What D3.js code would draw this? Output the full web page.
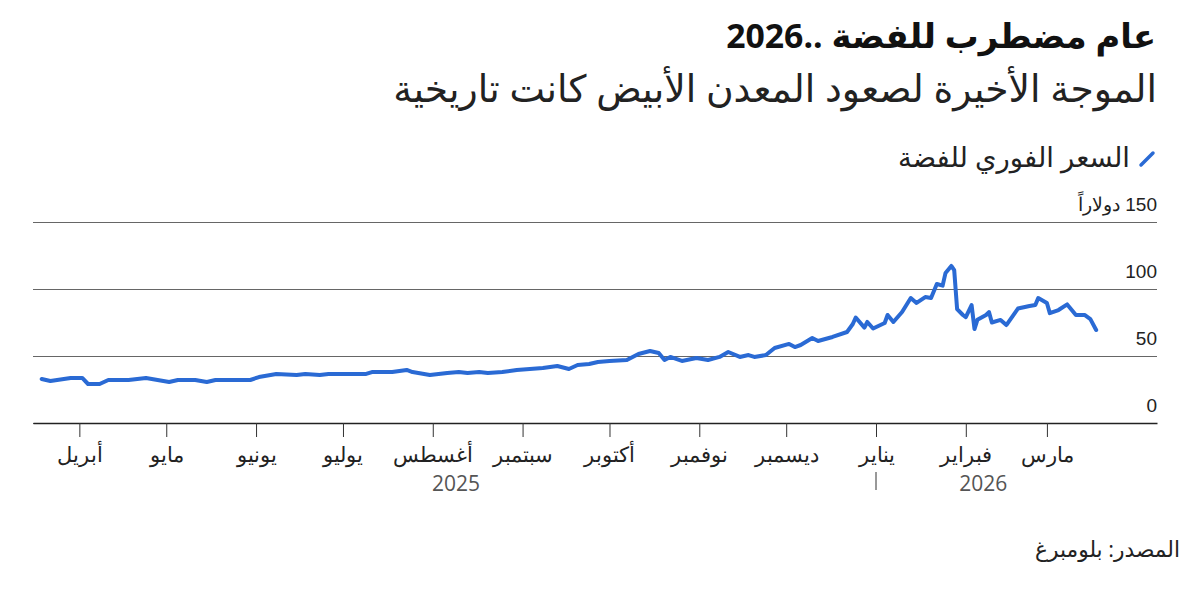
<!DOCTYPE html>
<html lang="ar">
<head>
<meta charset="utf-8">
<script src="https://cdn.jsdelivr.net/npm/d3@7"></script>
<style>
  html, body { margin: 0; padding: 0; background: #fff; }
  svg { display: block; font-family: "Open Sans", "DejaVu Sans", sans-serif; }
</style>
</head>
<body>
<div id="chart"></div>
<script>
// silver spot price, USD/oz
const dates = [
  "2025-03-19","2025-03-22","2025-03-29","2025-04-02","2025-04-04","2025-04-08","2025-04-11","2025-04-18",
  "2025-04-24","2025-05-02","2025-05-05","2025-05-11","2025-05-15","2025-05-18","2025-05-23","2025-05-30",
  "2025-06-02","2025-06-08","2025-06-15","2025-06-18","2025-06-23","2025-06-26","2025-07-03","2025-07-09",
  "2025-07-11","2025-07-18","2025-07-23","2025-07-25","2025-07-31","2025-08-06","2025-08-10","2025-08-13",
  "2025-08-17","2025-08-20","2025-08-25","2025-08-30","2025-09-08","2025-09-13","2025-09-17","2025-09-20",
  "2025-09-24","2025-09-27","2025-10-01","2025-10-07","2025-10-11","2025-10-15","2025-10-18","2025-10-20",
  "2025-10-22","2025-10-26","2025-10-31","2025-11-04","2025-11-08","2025-11-11","2025-11-15","2025-11-18",
  "2025-11-20","2025-11-24","2025-11-27","2025-12-02","2025-12-04","2025-12-06","2025-12-10","2025-12-12",
  "2025-12-17","2025-12-22","2025-12-24","2025-12-25","2025-12-28","2025-12-29","2025-12-31","2026-01-04",
  "2026-01-05","2026-01-07","2026-01-10","2026-01-13","2026-01-15","2026-01-18","2026-01-20","2026-01-22",
  "2026-01-24","2026-01-25","2026-01-27","2026-01-28","2026-01-29","2026-01-31","2026-02-01","2026-02-03",
  "2026-02-04","2026-02-05","2026-02-08","2026-02-09","2026-02-10","2026-02-13","2026-02-15","2026-02-19",
  "2026-02-23","2026-02-25","2026-02-26","2026-03-01","2026-03-02","2026-03-05","2026-03-08","2026-03-11",
  "2026-03-14","2026-03-16","2026-03-18"
];
const prices = [
  32.8, 31.3, 33.6, 33.6, 29.1, 29.1, 32.1, 32.1,
  33.6, 30.6, 32.1, 32.1, 30.6, 32.1, 32.1, 32.1,
  34.3, 36.6, 35.8, 36.6, 35.8, 36.6, 36.6, 36.6,
  38.0, 38.0, 39.6, 38.0, 35.8, 37.3, 38.0, 37.3,
  38.0, 37.3, 38.0, 39.6, 41.0, 42.5, 40.3, 43.3,
  44.0, 45.5, 46.3, 47.0, 51.5, 53.7, 52.2, 47.0,
  49.3, 46.3, 48.5, 47.0, 49.3, 53.0, 49.3, 50.7,
  49.3, 50.7, 56.0, 59.0, 56.7, 58.2, 63.4, 61.2,
  64.2, 67.9, 73.9, 78.7, 71.2, 75.4, 70.5, 74.6,
  80.6, 75.4, 82.8, 93.3, 89.6, 94.0, 93.3, 103.7,
  102.5, 112.0, 117.2, 114.0, 85.0, 80.6, 79.0, 88.0,
  70.1, 77.0, 80.6, 82.8, 75.0, 76.9, 73.1, 85.4,
  87.3, 88.0, 93.3, 89.6, 82.0, 84.3, 88.5, 80.6,
  80.6, 77.5, 69.4
];

const monthTicks = ["2025-04-01","2025-05-01","2025-06-01","2025-07-01","2025-08-01","2025-09-01",
                    "2025-10-01","2025-11-01","2025-12-01","2026-01-01","2026-02-01","2026-03-01"];
const monthNames = ["أبريل","مايو","يونيو","يوليو","أغسطس","سبتمبر","أكتوبر","نوفمبر","ديسمبر","يناير","فبراير","مارس"];
const yearNames = ["2025","2026"];
const yearDates = ["2025-08-09","2026-02-07"];
const yearSplit = "2026-01-01";
const yTicks = [0, 50, 100, 150];
const yUnit = "دولاراً";

const title = "2026.. عام مضطرب للفضة";
const subtitle = "الموجة الأخيرة لصعود المعدن الأبيض كانت تاريخية";
const legendLabel = "السعر الفوري للفضة";
const source = "المصدر: بلومبرغ";

const width = 1200, height = 592;
const plot = {left: 33, right: 1157, top: 222, bottom: 423};
const blue = "#2a6ad4";

const parse = d3.timeParse("%Y-%m-%d");
const series = dates.map((d, i) => ({date: parse(d), value: prices[i]}));

const svg = d3.select("#chart").append("svg")
  .attr("width", width)
  .attr("height", height);

// Scales
const x = d3.scaleTime()
  .domain([parse("2025-03-16"), parse("2026-04-08")])
  .range([plot.left, plot.right]);

const y = d3.scaleLinear()
  .domain([0, 150])
  .range([plot.bottom, plot.top]);

// shrink / grow a text to a target width
function fitText(sel, target) {
  const w = sel.node().getComputedTextLength();
  const fs = parseFloat(sel.attr("font-size"));
  if (w > 0) sel.attr("font-size", (fs * target / w).toFixed(2));
}

// Titles
svg.append("text")
  .attr("x", 1156).attr("y", 48)
  .attr("text-anchor", "end")
  .attr("font-size", 34)
  .attr("font-weight", 700)
  .attr("fill", "#111")
  .text(title)
  .call(fitText, 430);

svg.append("text")
  .attr("x", 1157).attr("y", 102)
  .attr("text-anchor", "end")
  .attr("font-size", 30)
  .attr("fill", "#222")
  .text(subtitle)
  .call(fitText, 764);

// Legend
svg.append("line")
  .attr("x1", 1141).attr("y1", 165)
  .attr("x2", 1153).attr("y2", 153)
  .attr("stroke", blue)
  .attr("stroke-width", 3.5)
  .attr("stroke-linecap", "round");

svg.append("text")
  .attr("x", 1130).attr("y", 167)
  .attr("text-anchor", "end")
  .attr("font-size", 23)
  .attr("fill", "#222")
  .text(legendLabel)
  .call(fitText, 232);

// y grid + labels
const yAxis = d3.axisLeft(y)
  .tickValues(yTicks)
  .tickSize(plot.right - plot.left)
  .tickFormat(d => d === 150 ? "\u200F" + d + " " + yUnit : d);

const gy = svg.append("g")
  .attr("transform", `translate(${plot.right},0)`)
  .call(yAxis);

gy.select(".domain").remove();
gy.selectAll(".tick line")
  .attr("stroke", "#666")
  .attr("stroke-width", 1);
gy.selectAll(".tick text")
  .attr("x", 0)
  .attr("dy", -12)
  .attr("text-anchor", "end")
  .attr("font-size", 19)
  .attr("font-family", null)
  .attr("fill", "#222");

// x axis
const xAxis = d3.axisBottom(x)
  .tickValues(monthTicks.map(parse))
  .tickSize(14)
  .tickSizeOuter(0)
  .tickPadding(10)
  .tickFormat((d, i) => monthNames[i]);

const gx = svg.append("g")
  .attr("transform", `translate(0,${plot.bottom})`)
  .call(xAxis);

gx.select(".domain")
  .attr("stroke", "#222")
  .attr("stroke-width", 1.5);
gx.selectAll(".tick line")
  .attr("stroke", "#333");
gx.selectAll(".tick text")
  .attr("font-size", 21)
  .attr("font-family", null)
  .attr("fill", "#222");

// years
svg.selectAll(".year")
  .data(yearNames)
  .enter()
  .append("text")
  .attr("class", "year")
  .attr("x", (d, i) => x(parse(yearDates[i])))
  .attr("y", 491)
  .attr("text-anchor", "middle")
  .attr("font-size", 21)
  .attr("fill", "#555")
  .text(d => d);

svg.append("line")
  .attr("x1", x(parse(yearSplit))).attr("x2", x(parse(yearSplit)))
  .attr("y1", 472).attr("y2", 490)
  .attr("stroke", "#333")
  .attr("stroke-width", 1);

// price line
const line = d3.line()
  .x(d => x(d.date))
  .y(d => y(d.value));

svg.append("path")
  .datum(series)
  .attr("fill", "none")
  .attr("stroke", blue)
  .attr("stroke-width", 4)
  .attr("stroke-linejoin", "round")
  .attr("stroke-linecap", "round")
  .attr("d", line);

// source
svg.append("text")
  .attr("x", 1180).attr("y", 557)
  .attr("text-anchor", "end")
  .attr("font-size", 19)
  .attr("fill", "#222")
  .text(source)
  .call(fitText, 145);
</script>
</body>
</html>
